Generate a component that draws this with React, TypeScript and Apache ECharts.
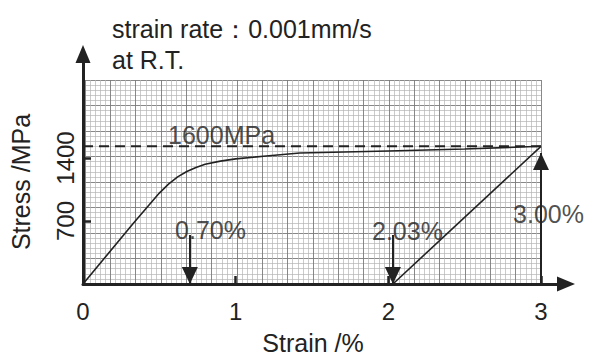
import React, { useEffect, useRef } from 'react';
import * as echarts from 'echarts';

// Loading curve (strain %, stress MPa)
const loadStrain = [0, 0.33, 0.5, 0.56, 0.62, 0.68, 0.74, 0.8, 0.9, 1.0, 1.2, 1.42, 2.0, 2.5, 3.0];
const loadStress = [0, 675, 1010, 1110, 1190, 1250, 1295, 1330, 1365, 1390, 1422, 1456, 1478, 1500, 1530];
// Unloading line
const unloadStrain = [3.0, 2.03];
const unloadStress = [1530, 0];
// Dashed reference level
const refLevel = 1530;
const refStrain = [0, 3];
// Tick labels
const xTickLabels = [0, 1, 2, 3];
const yTickLabels = [700, 1400];
// Annotations
const annoText = ['1600MPa', '0.70%', '2.03%', '3.00%'];
const annoX = [0.557, 0.603, 1.893, 2.817];
const annoY = [1661, 605, 594, 783];
// Arrows
const arrowX = [0.7, 2.03, 3.0];
const arrowFrom = [545, 545, 0];
const arrowTo = [0, 0, 1455];

const INK = '#222';
const FONT = 'Liberation Sans, Arial, Helvetica, sans-serif';

export default function App() {
  const ref = useRef<HTMLDivElement>(null);
  useEffect(() => {
    if (!ref.current) return;
    const chart = echarts.init(ref.current, undefined, { renderer: 'svg' });
    const pxPerPct = 458 / 3;
    const pxPerMPa = 0.09;
    const option: any = {
      animation: false,
      backgroundColor: '#fff',
      textStyle: { fontFamily: FONT },
      title: {
        text: 'strain rate：0.001mm/s\nat R.T.',
        left: 107,
        top: 8,
        textStyle: { fontSize: 25, lineHeight: 31, fontWeight: 'normal', color: INK, fontFamily: FONT },
      },
      grid: [
        { left: 83, top: 80, right: 55, bottom: 76, containLabel: false },
        { left: 83, top: 54, right: 30, bottom: 76, containLabel: false },
      ],
      xAxis: [
        {
          gridIndex: 0, type: 'value', min: 0, max: 18, interval: 1,
          axisLine: { show: false }, axisTick: { show: false }, axisLabel: { show: false },
          splitLine: { show: true, lineStyle: { color: '#7a7a7a', width: 0.9 } },
          minorTick: { show: false, splitNumber: 5 },
          minorSplitLine: { show: true, lineStyle: { color: '#b4b4b4', width: 0.7 } },
          name: 'Strain /%', nameLocation: 'middle', nameGap: 46,
          nameTextStyle: { fontSize: 25, color: INK, fontFamily: FONT },
        },
        {
          gridIndex: 1, type: 'value', min: 0, max: 483 / pxPerPct,
          axisLine: { show: true, symbol: ['none', 'triangle'], symbolSize: [15, 18], lineStyle: { color: INK, width: 3 } },
          axisTick: { show: true, inside: true, length: 8, lineStyle: { color: INK, width: 2.5 }, customValues: xTickLabels },
          axisLabel: { show: true, customValues: xTickLabels, fontSize: 24, color: INK, margin: 15, fontFamily: FONT, formatter: (v: number) => String(v) },
          splitLine: { show: false },
        },
      ],
      yAxis: [
        {
          gridIndex: 0, type: 'value', min: 0, max: 8, interval: 1,
          axisLine: { show: false }, axisTick: { show: false }, axisLabel: { show: false },
          splitLine: { show: true, lineStyle: { color: '#7a7a7a', width: 0.9 } },
          minorTick: { show: false, splitNumber: 5 },
          minorSplitLine: { show: true, lineStyle: { color: '#b4b4b4', width: 0.7 } },
          name: 'Stress /MPa', nameLocation: 'middle', nameRotate: 90, nameGap: 52,
          nameTextStyle: { fontSize: 25, color: INK, fontFamily: FONT },
        },
        {
          gridIndex: 1, type: 'value', min: 0, max: 230 / pxPerMPa,
          axisLine: { show: true, symbol: ['none', 'triangle'], symbolSize: [15, 18], lineStyle: { color: INK, width: 3 } },
          axisTick: { show: true, inside: true, length: 8, lineStyle: { color: INK, width: 2.5 }, customValues: yTickLabels },
          axisLabel: { show: true, customValues: yTickLabels, rotate: 90, fontSize: 24, color: INK, margin: 6, fontFamily: FONT, formatter: (v: number) => String(v) },
          splitLine: { show: false },
        },
      ],
      series: [
        {
          type: 'line', xAxisIndex: 1, yAxisIndex: 1, symbol: 'none',
          lineStyle: { color: INK, width: 1.6 },
          data: loadStrain.map((x, i) => [x, loadStress[i]]),
        },
        {
          type: 'line', xAxisIndex: 1, yAxisIndex: 1, symbol: 'none',
          lineStyle: { color: INK, width: 1.6 },
          data: unloadStrain.map((x, i) => [x, unloadStress[i]]),
        },
        {
          type: 'line', xAxisIndex: 1, yAxisIndex: 1, symbol: 'none',
          lineStyle: { color: INK, width: 2, type: [10, 6] },
          data: refStrain.map((x) => [x, refLevel]),
          markLine: {
            silent: true,
            symbol: ['none', 'triangle'],
            symbolSize: [16, 17],
            symbolOffset: [0, [0, 8.5]],
            label: { show: false },
            lineStyle: { color: INK, width: 2, type: 'solid' },
            emphasis: { disabled: true },
            data: arrowX.map((x, i) => [{ coord: [x, arrowFrom[i]] }, { coord: [x, arrowTo[i]] }]),
          },
        },
        {
          type: 'scatter', xAxisIndex: 1, yAxisIndex: 1, symbolSize: 0, silent: true,
          data: annoX.map((x, i) => ({ value: [x, annoY[i]], name: annoText[i] })),
          label: {
            show: true, position: [0, 0], align: 'left', verticalAlign: 'middle',
            formatter: (p: any) => p.name, fontSize: 25, color: INK, fontFamily: FONT,
          },
        },
      ],
    };
    chart.setOption(option);
    return () => chart.dispose();
  }, []);
  return <div ref={ref} style={{ position: 'fixed', left: 0, top: 0, width: 596, height: 360 }} />;
}
